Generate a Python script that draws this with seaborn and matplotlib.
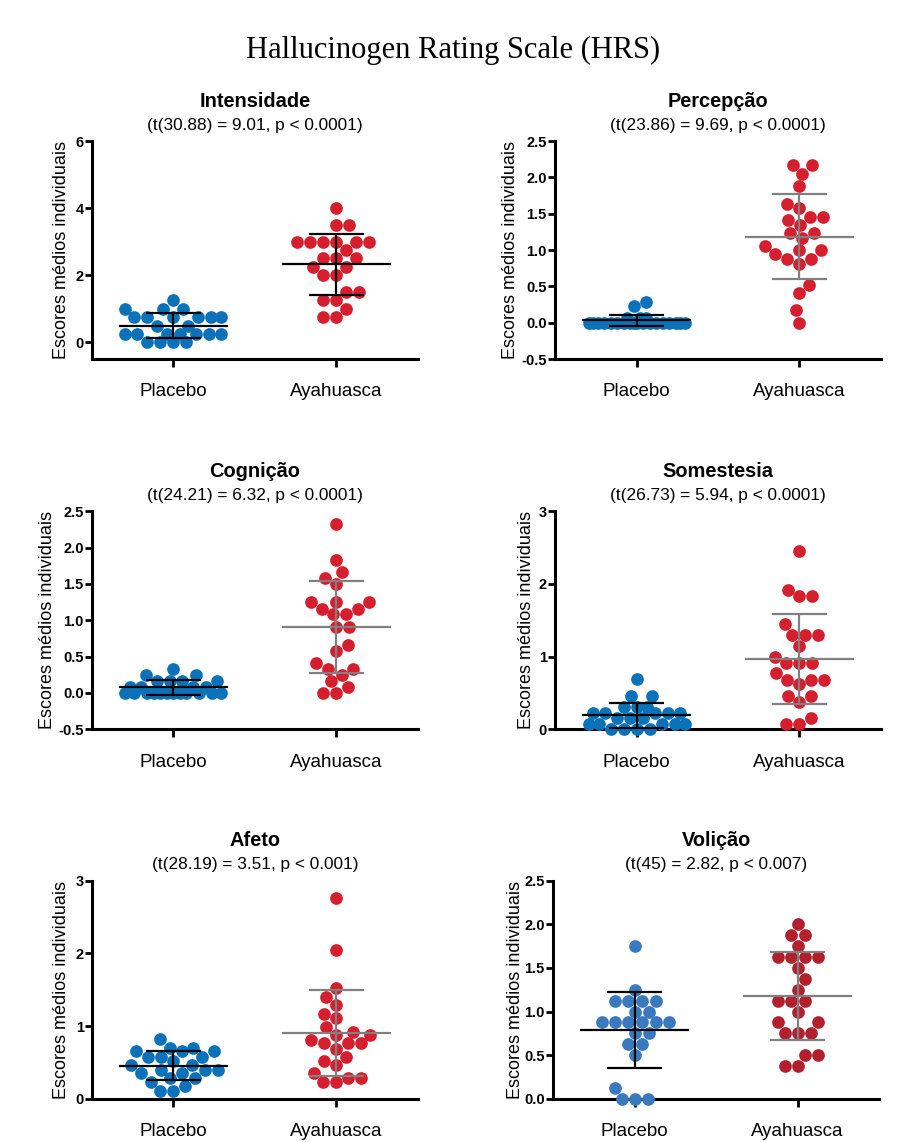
import numpy as np
import pandas as pd
import matplotlib
matplotlib.use("Agg")
import matplotlib.pyplot as plt
import seaborn as sns

# Mean individual scores per HRS subscale
grupos = ["Placebo", "Ayahuasca"]

intensidade_placebo = [1.25, 1.0, 1.0, 1.0, 0.75, 0.75, 0.75, 0.75, 0.75, 0.75, 0.5, 0.5,
                       0.25, 0.25, 0.25, 0.25, 0.25, 0.25, 0.25, 0.0, 0.0, 0.0, 0.0]
intensidade_ayahuasca = [4.0, 3.5, 3.5, 3.0, 3.0, 3.0, 3.0, 3.0, 3.0, 2.75, 2.5, 2.5, 2.5,
                         2.25, 2.25, 2.0, 2.0, 1.5, 1.5, 1.25, 1.25, 1.0, 0.75, 0.75]

percepcao_placebo = [0.29, 0.23, 0.07, 0.07, 0.07, 0.0, 0.0, 0.0, 0.0, 0.0, 0.0, 0.0, 0.0,
                     0.0, 0.0, 0.0, 0.0, 0.0, 0.0, 0.0, 0.0, 0.0, 0.0]
percepcao_ayahuasca = [2.17, 2.17, 2.05, 1.88, 1.64, 1.58, 1.46, 1.46, 1.41, 1.35, 1.23, 1.23,
                       1.17, 1.05, 1.0, 1.0, 0.94, 0.88, 0.88, 0.81, 0.52, 0.41, 0.17, 0.0]

cognicao_placebo = [0.33, 0.25, 0.25, 0.16, 0.16, 0.16, 0.16, 0.08, 0.08, 0.08, 0.08, 0.0,
                    0.0, 0.0, 0.0, 0.0, 0.0, 0.0, 0.0, 0.0, 0.0, 0.0, 0.0]
cognicao_ayahuasca = [2.33, 1.83, 1.66, 1.58, 1.5, 1.25, 1.25, 1.25, 1.16, 1.16, 1.08, 1.08,
                      0.91, 0.91, 0.66, 0.58, 0.41, 0.33, 0.33, 0.25, 0.16, 0.08, 0.0, 0.0]

somestesia_placebo = [0.69, 0.46, 0.46, 0.30, 0.30, 0.30, 0.22, 0.22, 0.22, 0.22, 0.22, 0.15,
                      0.15, 0.15, 0.07, 0.07, 0.07, 0.07, 0.07, 0.0, 0.0, 0.0, 0.0]
somestesia_ayahuasca = [2.45, 1.92, 1.83, 1.83, 1.45, 1.30, 1.30, 1.30, 1.14, 1.0, 0.91, 0.91,
                        0.91, 0.77, 0.68, 0.68, 0.68, 0.62, 0.46, 0.46, 0.38, 0.15, 0.07, 0.07]

afeto_placebo = [0.82, 0.70, 0.70, 0.65, 0.65, 0.65, 0.58, 0.58, 0.58, 0.52, 0.46, 0.46,
                 0.40, 0.40, 0.40, 0.35, 0.35, 0.28, 0.28, 0.23, 0.17, 0.11, 0.11]
afeto_ayahuasca = [2.76, 2.05, 1.52, 1.40, 1.29, 1.17, 1.11, 0.99, 0.92, 0.88, 0.88, 0.81,
                   0.76, 0.76, 0.76, 0.69, 0.58, 0.52, 0.46, 0.35, 0.29, 0.29, 0.23, 0.23]

volicao_placebo = [1.75, 1.25, 1.125, 1.125, 1.125, 1.125, 1.0, 1.0, 0.875, 0.875, 0.875,
                   0.875, 0.875, 0.875, 0.75, 0.75, 0.625, 0.625, 0.5, 0.125, 0.0, 0.0, 0.0]
volicao_ayahuasca = [2.0, 1.875, 1.875, 1.75, 1.625, 1.625, 1.625, 1.625, 1.5, 1.375, 1.25,
                     1.125, 1.125, 1.125, 1.0, 0.875, 0.875, 0.75, 0.75, 0.75, 0.5, 0.5,
                     0.375, 0.375]

titulos = ["Intensidade", "Percepção", "Cognição", "Somestesia", "Afeto", "Volição"]
estatisticas = ["(t(30.88) = 9.01, p < 0.0001)", "(t(23.86) = 9.69, p < 0.0001)",
                "(t(24.21) = 6.32, p < 0.0001)", "(t(26.73) = 5.94, p < 0.0001)",
                "(t(28.19) = 3.51, p < 0.001)", "(t(45) = 2.82, p < 0.007)"]
dados = [(intensidade_placebo, intensidade_ayahuasca),
         (percepcao_placebo, percepcao_ayahuasca),
         (cognicao_placebo, cognicao_ayahuasca),
         (somestesia_placebo, somestesia_ayahuasca),
         (afeto_placebo, afeto_ayahuasca),
         (volicao_placebo, volicao_ayahuasca)]
ylims = [(-0.5, 6), (-0.5, 2.5), (-0.5, 2.5), (0, 3), (0, 3), (0, 2.5)]
yticks = [[0, 2, 4, 6],
          [-0.5, 0.0, 0.5, 1.0, 1.5, 2.0, 2.5],
          [-0.5, 0.0, 0.5, 1.0, 1.5, 2.0, 2.5],
          [0, 1, 2, 3],
          [0, 1, 2, 3],
          [0.0, 0.5, 1.0, 1.5, 2.0, 2.5]]
ytick_fmt = ["{:.0f}", "{:.1f}", "{:.1f}", "{:.0f}", "{:.0f}", "{:.1f}"]
ylabel_x = [-0.066, -0.109, -0.110, -0.060, -0.066, -0.090]

azul, vermelho = "#0b72ba", "#d51f2f"
cores = [(azul, vermelho)] * 5 + [("#3b79bf", "#b3202d")]
cor_barras = [("black", "black")] + [("black", "#808080")] * 5

DIAM_PX = 12.7      # marker diameter in pixels
MAX_HALF_PX = 48.0  # widest allowed offset from the group centre


def beeswarm(vals, py_per_unit):
    """Greedy swarm layout: returns horizontal offsets in pixels.
    Points go as close to the centre as possible without touching; when a
    row does not fit inside the allowed width, it is squeezed evenly."""
    vals = np.asarray(vals, dtype=float)
    order = np.argsort(vals, kind="stable")
    cand = np.arange(-MAX_HALF_PX, MAX_HALF_PX + 0.01, 0.5)
    placed_x, placed_y = [], []
    offs = np.zeros(len(vals))
    for k in order:
        y = vals[k] * py_per_unit
        if placed_x:
            px = np.array(placed_x)
            py = np.array(placed_y)
            d = np.sqrt((cand[:, None] - px[None, :]) ** 2 + (y - py[None, :]) ** 2)
            mind = d.min(axis=1)
        else:
            mind = np.full(cand.shape, np.inf)
        bias = np.sign(np.sum(placed_x)) if placed_x else 0.0
        ok = mind >= DIAM_PX - 1e-6
        if ok.any():
            idx = np.where(ok)[0]
            key = np.abs(cand[idx]) + 1e-3 * bias * np.sign(cand[idx])
            best = idx[np.argmin(key)]
        else:
            key = -mind + 1e-3 * np.abs(cand)
            best = np.argmin(key)
        offs[k] = cand[best]
        placed_x.append(cand[best])
        placed_y.append(y)
    return offs


sns.set_theme(style="ticks")
plt.rcParams["font.family"] = ["Liberation Sans", "DejaVu Sans"]
plt.rcParams["text.color"] = "black"
plt.rcParams["axes.labelcolor"] = "black"
plt.rcParams["xtick.color"] = "black"
plt.rcParams["ytick.color"] = "black"

fig = plt.figure(figsize=(9.06, 11.42), dpi=100)
fig.text(0.5, 0.956, "Hallucinogen Rating Scale (HRS)", ha="center", va="center",
         fontsize=22, family=["Liberation Serif", "DejaVu Serif"])

lefts = [0.1015, 0.6126]
bottoms = [0.6856, 0.3614, 0.0379]
w, h = 0.3598, 0.1909
marker_pt = DIAM_PX * 72.0 / fig.dpi

for i, (titulo, est, (plac, aya)) in enumerate(zip(titulos, estatisticas, dados)):
    left = lefts[i % 2] if i != 5 else 0.6104
    ax = fig.add_axes([left, bottoms[i // 2], w, h])
    ax.set_xlim(-0.5, 1.5)
    ax.set_ylim(*ylims[i])

    # pixel scale of this panel
    p0 = ax.transData.transform((0, 0))
    p1 = ax.transData.transform((1, 1))
    px_x, px_y = p1[0] - p0[0], p1[1] - p0[1]

    for j, vals in enumerate((plac, aya)):
        v = np.asarray(vals, dtype=float)
        xs = j + beeswarm(v, px_y) / px_x
        df = pd.DataFrame({"x": xs, "valor": v})
        sns.scatterplot(data=df, x="x", y="valor", color=cores[i][j],
                        s=marker_pt ** 2, linewidth=0, legend=False, ax=ax,
                        zorder=3, clip_on=False)

        # mean ± SD
        m, sd = v.mean(), v.std(ddof=1)
        c = cor_barras[i][j]
        ax.hlines(m, j - 0.335, j + 0.335, color=c, lw=1.6, zorder=4, clip_on=False)
        ax.hlines([m - sd, m + sd], j - 0.17, j + 0.17, color=c, lw=1.6, zorder=4,
                  clip_on=False)
        ax.vlines(j, m - sd, m + sd, color=c, lw=1.6, zorder=4, clip_on=False)

    ax.set_xlim(-0.5, 1.5)
    ax.set_ylim(*ylims[i])
    ax.set_yticks(yticks[i])
    ax.set_yticklabels([ytick_fmt[i].format(t) for t in yticks[i]],
                       fontweight="bold", fontsize=10.5)
    ax.set_xticks([0, 1])
    ax.set_xticklabels(grupos, fontsize=13.5)
    ax.set_xlabel("")
    ax.set_ylabel("Escores médios individuais", fontsize=13)
    ax.yaxis.set_label_coords(ylabel_x[i], 0.5)
    ax.tick_params(axis="y", length=5, width=2, pad=1)
    ax.tick_params(axis="x", length=6, width=2, pad=11.5)
    for s in ("top", "right"):
        ax.spines[s].set_visible(False)
    for s in ("left", "bottom"):
        ax.spines[s].set_linewidth(2.2)
        ax.spines[s].set_color("black")
    ax.set_facecolor("white")

    ax.text(0.5, 1.183, titulo, transform=ax.transAxes, ha="center", va="center",
            fontsize=14.4, fontweight="bold")
    ax.text(0.5, 1.073, est, transform=ax.transAxes, ha="center", va="center",
            fontsize=12.4)

fig.savefig("out.png", dpi=100, facecolor="white")
